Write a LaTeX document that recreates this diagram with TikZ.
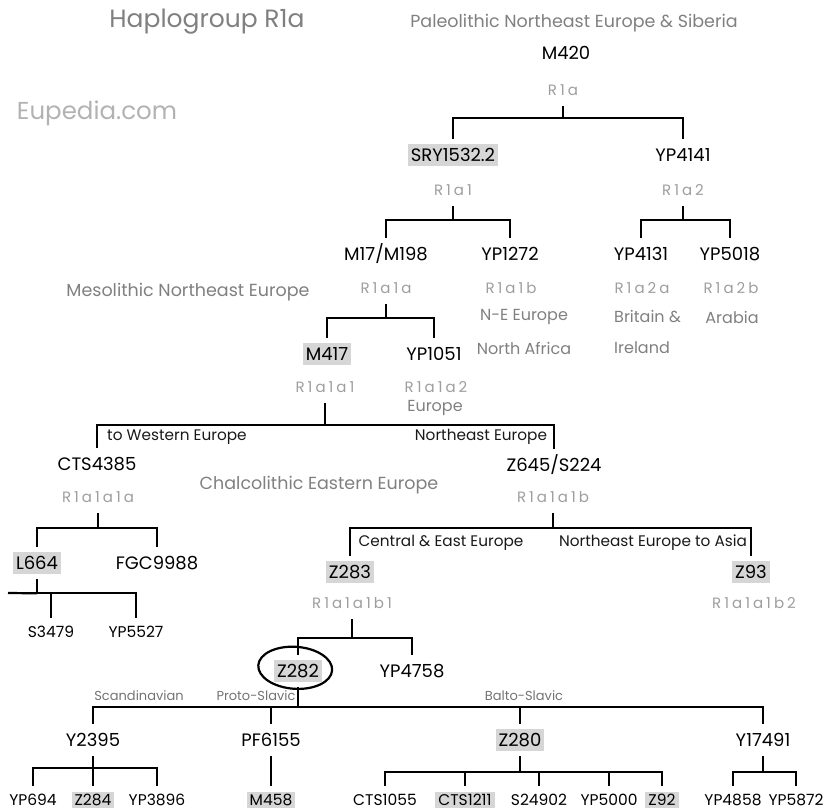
\documentclass[tikz,border=0pt]{standalone}
\usepackage{fontspec}
\setmainfont{Poppins}
\newfontfamily\hapfont[LetterSpace=20]{Poppins}
\usetikzlibrary{positioning,calc}

\definecolor{markgray}{gray}{0.84}
\definecolor{hapgray}{gray}{0.62}
\definecolor{regiongray}{gray}{0.5}

\begin{document}
\begin{tikzpicture}[x=1pt,y=-1pt,
  mk/.style={font=\fontsize{18}{18}\selectfont,text=black,inner xsep=3pt,inner ysep=5pt,
    text height=12.6pt,text depth=0pt,outer sep=5pt},
  hi/.style={mk,fill=markgray},
  leaf/.style={mk,font=\fontsize{15.5}{15.5}\selectfont,text height=10.9pt,inner ysep=3pt,outer sep=6pt},
  hileaf/.style={leaf,fill=markgray},
  hap/.style={font=\hapfont\fontsize{15}{15}\selectfont,text=hapgray,inner sep=2pt,
    text height=10.5pt,text depth=0pt,outer sep=9pt},
  region/.style={font=\fontsize{17.5}{17.5}\selectfont,text=regiongray,inner sep=1pt},
  note/.style={font=\fontsize{16}{16}\selectfont,text=regiongray,inner sep=1pt},
  route/.style={font=\fontsize{15.3}{15.3}\selectfont,text=black!90,inner sep=1pt},
  tribe/.style={font=\fontsize{13}{13}\selectfont,text=black!55,inner sep=1pt},
  branch/.style={line width=2.2pt}]
\useasboundingbox (0,0) rectangle (825,811);

% headings
\node[font=\fontsize{25}{25}\selectfont,text=black!50] (title) at (207,22) {Haplogroup R1a};
\node[region] (paleo) at (574,23) {Paleolithic Northeast Europe \& Siberia};
\node[font=\fontsize{24.5}{24.5}\selectfont,text=black!30] (site) at (97,113) {Eupedia.com};
\node[region] (meso) at (188,292) {Mesolithic Northeast Europe};
\node[region] (chalco) at (319,485) {Chalcolithic Eastern Europe};

% level R1a
\node[mk] (m420) at (566,53) {M420};
\node[hap] (r1a) at (563,90) {R1a};
\node[hi] (sry) at (453,155) {SRY1532.2};
\node[mk] (yp4141) at (683,155) {YP4141};
\node[hap] (r1a1) at (453,190) {R1a1};
\node[hap] (r1a2) at (683,190) {R1a2};

% level R1a1 / R1a2
\node[mk] (m17) at (386,254) {M17/M198};
\node[mk] (yp1272) at (510,254) {YP1272};
\node[mk] (yp4131) at (641,254) {YP4131};
\node[mk] (yp5018) at (730,254) {YP5018};
\node[hap] (r1a1a) at (386,288) {R1a1a};
\node[hap] (r1a1b) at (511,288) {R1a1b};
\node[hap] (r1a2a) at (642,288) {R1a2a};
\node[hap] (r1a2b) at (731,288) {R1a2b};
\node[note] (ne) at (524,317) {N-E Europe};
\node[note] (nafr) at (524,348) {North Africa};
\node[note,anchor=west] (brit) at (613,317) {Britain \&};
\node[note,anchor=west] (irl) at (613,348) {Ireland};
\node[note] (arab) at (732,317) {Arabia};

% level R1a1a
\node[hi] (m417) at (327,354) {M417};
\node[mk] (yp1051) at (434,354) {YP1051};
\node[hap] (r1a1a1) at (325,387) {R1a1a1};
\node[hap] (r1a1a2) at (436,387) {R1a1a2};
\node[note] (eur) at (435,408) {Europe};

% level R1a1a1
\node[route,anchor=west] (west) at (106,437) {to Western Europe};
\node[route] (neast) at (481,437) {Northeast Europe};
\node[mk] (cts4385) at (97,464) {CTS4385};
\node[mk] (z645) at (554,465) {Z645/S224};
\node[hap] (r1a1a1a) at (98,497) {R1a1a1a};
\node[hap] (r1a1a1b) at (553,497) {R1a1a1b};

% western branch
\node[hi] (l664) at (37,563) {L664};
\node[mk] (fgc9988) at (157,563) {FGC9988};
\node[leaf] (s3479) at (51,632) {S3479};
\node[leaf] (yp5527) at (136,632) {YP5527};
\coordinate (cut) at (8,593);

% Z645 branch
\node[route] (ceast) at (441,543) {Central \& East Europe};
\node[route] (nasia) at (653,543) {Northeast Europe to Asia};
\node[hi] (z283) at (350,572) {Z283};
\node[hi] (z93) at (751,572) {Z93};
\node[hap] (r1a1a1b1) at (352,603) {R1a1a1b1};
\node[hap] (r1a1a1b2) at (754,603) {R1a1a1b2};
\node[hi] (z282) at (298,671) {Z282};
\node[mk] (yp4758) at (412,671) {YP4758};

% Z282 branch
\node[tribe] (scand) at (139,696) {Scandinavian};
\node[tribe] (proto) at (256,696) {Proto-Slavic};
\node[tribe] (balto) at (524,696) {Balto-Slavic};
\node[mk] (y2395) at (93,740) {Y2395};
\node[mk] (pf6155) at (271,740) {PF6155};
\node[hi] (z280) at (520,740) {Z280};
\node[mk] (y17491) at (763,740) {Y17491};

% bottom row
\node[leaf] (yp694) at (33,800) {YP694};
\node[hileaf] (z284) at (93,800) {Z284};
\node[leaf] (yp3896) at (157,800) {YP3896};
\node[hileaf] (m458) at (271,800) {M458};
\node[leaf] (cts1055) at (385,800) {CTS1055};
\node[hileaf] (cts1211) at (465,800) {CTS1211};
\node[leaf] (s24902) at (539,800) {S24902};
\node[leaf] (yp5000) at (609,800) {YP5000};
\node[hileaf] (z92) at (662,800) {Z92};
\node[leaf] (yp4858) at (733,800) {YP4858};
\node[leaf] (yp5872) at (796,800) {YP5872};

% brackets
\draw[branch] (r1a.south) -- ++(0,12) coordinate (j1);
\foreach \c in {sry,yp4141} \draw[branch] (j1) -| (\c.north);
\draw[branch] (r1a1.south) -- ++(0,14) coordinate (j2);
\foreach \c in {m17,yp1272} \draw[branch] (j2) -| (\c.north);
\draw[branch] (r1a2.south) -- ++(0,14) coordinate (j3);
\foreach \c in {yp4131,yp5018} \draw[branch] (j3) -| (\c.north);
\draw[branch] (r1a1a.south) -- ++(0,14) coordinate (j4);
\foreach \c in {m417,yp1051} \draw[branch] (j4) -| (\c.north);
\draw[branch] (r1a1a1.south) -- ++(0,22) coordinate (j5);
\foreach \c in {cts4385,z645} \draw[branch] (j5) -| (\c.north);
\draw[branch] (r1a1a1a.south) -- ++(0,15) coordinate (j6);
\foreach \c in {l664,fgc9988} \draw[branch] (j6) -| (\c.north);
\draw[branch] (r1a1a1b.south) -- ++(0,15) coordinate (j7);
\foreach \c in {z283,z93} \draw[branch] (j7) -| (\c.north);
\draw[branch] (l664.south) -- ++(0,14) coordinate (j8);
\foreach \c in {s3479,yp5527} \draw[branch] (j8) -| (\c.north);
\draw[branch] (j8) -- (cut);
\draw[branch] (r1a1a1b1.south) -- ++(0,19) coordinate (j9);
\foreach \c in {z282,yp4758} \draw[branch] (j9) -| (\c.north);
\draw[branch] (z282.south) -- ++(0,20) coordinate (j10);
\foreach \c in {y2395,pf6155,z280,y17491} \draw[branch] (j10) -| (\c.north);
\draw[branch] (y2395.south) -- ++(0,12) coordinate (j11);
\foreach \c in {yp694,z284,yp3896} \draw[branch] (j11) -| (\c.north);
\draw[branch] (pf6155.south) -- (m458.north);
\draw[branch] (z280.south) -- ++(0,16) coordinate (j13);
\foreach \c in {cts1055,cts1211,s24902,yp5000,z92} \draw[branch] (j13) -| (\c.north);
\draw[branch] (y17491.south) -- ++(0,16) coordinate (j14);
\foreach \c in {yp4858,yp5872} \draw[branch] (j14) -| (\c.north);

% hand-drawn ring round Z282
\draw[line width=2.2pt,rotate around={-4:(z282.center)}] ($(z282.center)+(-3,-3)$) ellipse [x radius=37,y radius=21];
\end{tikzpicture}
\end{document}
